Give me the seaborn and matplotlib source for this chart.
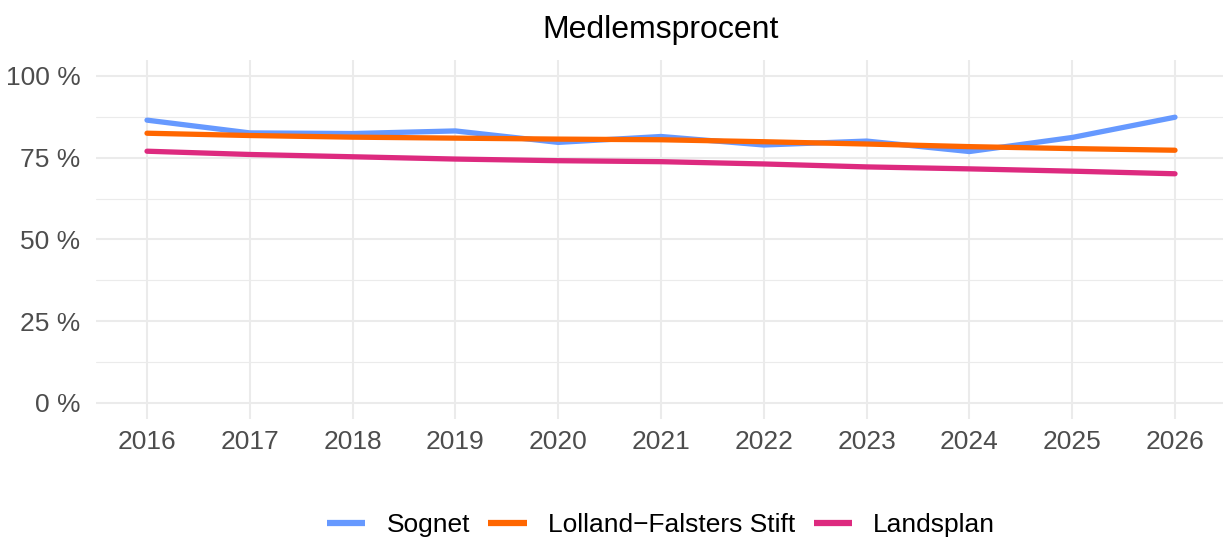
import matplotlib
matplotlib.use("Agg")
import matplotlib.pyplot as plt
import seaborn as sns
import pandas as pd
from matplotlib.ticker import FixedLocator

years = [2016, 2017, 2018, 2019, 2020, 2021, 2022, 2023, 2024, 2025, 2026]
sognet = [86.5, 82.6, 82.4, 83.2, 79.7, 81.5, 78.9, 80.1, 76.9, 81.2, 87.4]
stift = [82.5, 81.8, 81.3, 81.0, 80.7, 80.5, 79.9, 79.2, 78.4, 77.8, 77.3]
lands = [77.0, 76.0, 75.3, 74.6, 74.1, 73.8, 73.1, 72.2, 71.6, 70.9, 70.1]
series_names = ["Sognet", "Lolland\u2212Falsters Stift", "Landsplan"]
colors = ["#6699FF", "#FF6600", "#DD2A7F"]
y_ticks = [0, 25, 50, 75, 100]
y_labels = ["0 %", "25 %", "50 %", "75 %", "100 %"]
title = "Medlemsprocent"

df = pd.DataFrame({
    "year": years * 3,
    "value": sognet + stift + lands,
    "serie": [series_names[0]] * len(years) + [series_names[1]] * len(years) + [series_names[2]] * len(years),
})

sns.set_theme(style="white")
plt.rcParams["font.family"] = ["Liberation Sans", "DejaVu Sans"]

W, H = 1223, 537
fig = plt.figure(figsize=(W / 100, H / 100), dpi=100)
left_px, right_px = 95.6, 1226.4
top_px, bot_px = 59.65, 419.35
ax = fig.add_axes([left_px / W, 1 - bot_px / H, (right_px - left_px) / W, (bot_px - top_px) / H])

sns.lineplot(data=df, x="year", y="value", hue="serie", hue_order=series_names,
             palette=colors, linewidth=3.8, ax=ax, legend=True)

ax.set_xlim(2015.5, 2026.5)
ax.set_ylim(-5, 105)
ax.xaxis.set_major_locator(FixedLocator(years))
ax.set_xticklabels([str(y) for y in years])
ax.yaxis.set_major_locator(FixedLocator(y_ticks))
ax.set_yticklabels(y_labels)
ax.yaxis.set_minor_locator(FixedLocator([12.5, 37.5, 62.5, 87.5]))

ax.grid(which="major", color="#EBEBEB", linewidth=1.5)
ax.grid(which="minor", axis="y", color="#EBEBEB", linewidth=0.8)
ax.set_axisbelow(True)
for s in ax.spines.values():
    s.set_visible(False)
ax.tick_params(axis="both", which="both", length=0, labelsize=19, labelcolor="#4D4D4D")
ax.tick_params(axis="x", pad=8)
ax.tick_params(axis="y", pad=11)
ax.set_xlabel("")
ax.set_ylabel("")

fig.text(661 / W, 1 - 38 / H, title, ha="center", va="baseline", fontsize=23, color="black")

handles, labels = ax.get_legend_handles_labels()
if ax.legend_:
    ax.legend_.remove()
for h in handles:
    h.set_linewidth(4.5)
    h.set_solid_capstyle("butt")
leg = fig.legend(handles, labels, loc="center", bbox_to_anchor=(661 / W, 1 - 525 / H), ncol=3,
                 frameon=False, fontsize=19, handlelength=1.45, handletextpad=0.8,
                 columnspacing=0.7, borderpad=0, borderaxespad=0)
for t in leg.get_texts():
    t.set_color("black")

fig.savefig("out.png", dpi=100)
